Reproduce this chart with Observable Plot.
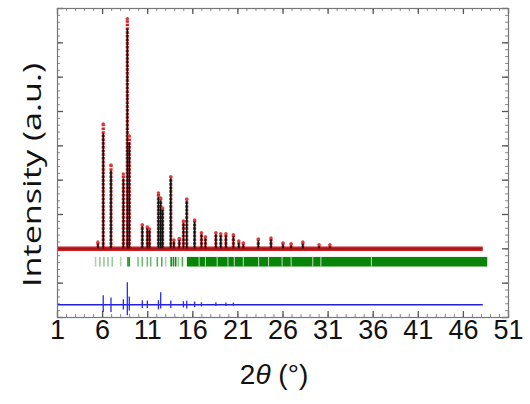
<!DOCTYPE html>
<html>
<head>
<meta charset="utf-8">
<script src="https://cdn.jsdelivr.net/npm/d3@7"></script>
<script src="https://cdn.jsdelivr.net/npm/@observablehq/plot@0.6"></script>
<style>
  html, body { margin: 0; padding: 0; background: #fff; }
  #chart { width: 530px; height: 404px; }
</style>
</head>
<body>
<div id="chart"></div>
<script>
// ---- Data (2θ in degrees, intensity in arbitrary counts) ----
const peakTheta = [5.48, 6.07, 6.93, 8.30, 8.74, 8.96, 10.40, 10.96, 11.20, 12.19, 12.44, 12.65, 13.56, 13.90, 14.50, 14.96, 15.33, 16.20, 16.96, 17.40, 18.56, 19.10, 19.67, 20.50, 21.10, 21.60, 23.26, 24.67, 26.00, 26.90, 28.20, 30.00, 31.20];
const peakObs   = [200, 3640, 2440, 2180, 6700, 3290, 700, 640, 580, 1630, 1480, 1190, 2100, 260, 300, 810, 1450, 840, 470, 350, 470, 440, 440, 410, 230, 175, 290, 320, 175, 150, 200, 120, 120];
const peakCalc  = [180, 3350, 2270, 2040, 6410, 3090, 650, 600, 540, 1510, 1400, 1120, 2100, 240, 280, 760, 1400, 800, 440, 330, 440, 410, 410, 390, 210, 160, 270, 300, 160, 140, 180, 110, 110];

const obsRange = [1, 48.2];           // measured 2θ range
const braggSparse = [5.22, 5.70, 6.15, 6.60, 7.07, 8.00, 8.81, 8.96, 9.93, 10.40, 10.96, 11.33, 12.07, 12.56, 13.00, 13.60, 13.85, 14.10, 14.40, 14.85];
const braggShade  = [0.35, 0.45, 0.45, 0.45, 0.45, 0.35, 0.9, 0.9, 0.55, 0.6, 0.6, 0.6, 0.7, 0.7, 0.35, 1, 1, 1, 0.5, 0.75];
const braggBand = [15.4, 48.7];      // dense reflections region
const braggGaps = [16.7, 17.4, 18.7, 19.9, 20.6, 21.6, 23.3, 24.4, 25.9, 26.9, 29.3, 30.2, 35.8];

const diffBase  = -1630;
const diffTheta = [6.07, 6.93, 8.30, 8.74, 8.96, 10.40, 10.96, 12.19, 12.44, 13.56, 14.96, 15.33, 16.20, 16.96, 18.56, 19.67, 20.50];
const diffUp    = [260, 200, 150, 640, 230, 120, 110, 120, 350, 110, 90, 100, 80, 60, 60, 50, 50];
const diffDown  = [-225, -225, -150, -320, -180, -110, -110, -150, -120, -110, -90, -120, -80, -60, -50, -50, -40];

const xTickValues = [1, 6, 11, 16, 21, 26, 31, 36, 41, 46, 51];
const xTickLabels = ["1", "6", "11", "16", "21", "26", "31", "36", "41", "46", "51"];
const xMinorTicks = d3.range(1, 52, 1);
const yMajorTicks = d3.range(-2000, 7001, 1000);
const yMinorTicks = d3.range(-2000, 7001, 200);

const xDomain = [1, 51];
const yDomain = [-2000, 7000];

// ---- build tables ----
const peaks = peakTheta.map((t, i) => ({t, obs: peakObs[i], calc: peakCalc[i]}));
const bragg = braggSparse.map((t, i) => ({t, s: braggShade[i]}));
const diffs = diffTheta.map((t, i) => ({t, up: diffBase + diffUp[i], down: diffBase + diffDown[i]}));

const W = 530, H = 404, mL = 57, mR = 22, mT = 8, mB = 87;
const cPerPx = (yDomain[1] - yDomain[0]) / (H - mT - mB);
const dPerPx = (xDomain[1] - xDomain[0]) / (W - mL - mR);
const tickGray = "#8a8a8a";

const chart = Plot.plot({
  width: W, height: H,
  marginLeft: mL, marginRight: mR, marginTop: mT, marginBottom: mB,
  x: {domain: xDomain, axis: null},
  y: {domain: yDomain, axis: null},
  style: {fontFamily: "Liberation Sans, Arial, sans-serif", background: "#fff"},
  marks: [
    // inner ticks (bottom / top)
    Plot.ruleX(xMinorTicks, {x: d => d, y1: yDomain[0], y2: yDomain[0] + 3 * cPerPx, stroke: tickGray}),
    Plot.ruleX(xTickValues, {x: d => d, y1: yDomain[0], y2: yDomain[0] + 6 * cPerPx, stroke: "#555", strokeWidth: 1.3}),
    Plot.ruleX(xMinorTicks, {x: d => d, y1: yDomain[1], y2: yDomain[1] - 3 * cPerPx, stroke: tickGray}),
    Plot.ruleX(xTickValues, {x: d => d, y1: yDomain[1], y2: yDomain[1] - 6 * cPerPx, stroke: "#555", strokeWidth: 1.3}),
    // inner ticks (left / right)
    Plot.ruleY(yMinorTicks, {y: d => d, x1: xDomain[0], x2: xDomain[0] + 3 * dPerPx, stroke: tickGray}),
    Plot.ruleY(yMajorTicks, {y: d => d, x1: xDomain[0], x2: xDomain[0] + 6 * dPerPx, stroke: "#555", strokeWidth: 1.3}),
    Plot.ruleY(yMinorTicks, {y: d => d, x1: xDomain[1], x2: xDomain[1] - 3 * dPerPx, stroke: tickGray}),
    Plot.ruleY(yMajorTicks, {y: d => d, x1: xDomain[1], x2: xDomain[1] - 6 * dPerPx, stroke: "#555", strokeWidth: 1.3}),

    // Bragg reflection markers
    Plot.ruleX(bragg, {x: "t", y1: -250, y2: -530, stroke: "#138a13", strokeWidth: 1.6, strokeOpacity: "s"}),
    Plot.rect([braggBand], {x1: d => d[0], x2: d => d[1], y1: -250, y2: -530, fill: "#088508"}),
    Plot.ruleX(braggGaps, {x: d => d, y1: -250, y2: -530, stroke: "#cfe8cf", strokeWidth: 0.9}),

    // difference curve
    Plot.ruleY([diffBase], {x1: obsRange[0], x2: obsRange[1], stroke: "#2020e8", strokeWidth: 1.6}),
    Plot.ruleX(diffs, {x: "t", y1: "down", y2: "up", stroke: "#2a2af0", strokeWidth: 1.3}),

    // observed (red) and calculated (black)
    Plot.ruleY([0], {x1: obsRange[0], x2: obsRange[1], stroke: "#d01c20", strokeWidth: 4.5}),
    Plot.ruleX(peaks, {x: "t", y1: 0, y2: "obs", stroke: "#d62025", strokeWidth: 3.2, strokeDasharray: "2.5,1.2"}),
    Plot.ruleY([0], {x1: obsRange[0], x2: obsRange[1], stroke: "#400808", strokeWidth: 1, strokeOpacity: 0.45}),
    Plot.ruleX(peaks, {x: "t", y1: 0, y2: "calc", stroke: "#111", strokeWidth: 1.7}),
    Plot.dot(peaks, {x: "t", y: "obs", r: 1.7, fill: "#e23a3a"}),

    Plot.frame({stroke: "#777", strokeWidth: 1.2}),

    // tick labels and axis titles
    Plot.text(xTickValues, {x: d => d, text: (d, i) => xTickLabels[i], frameAnchor: "bottom", dy: 21, fontSize: 27, fill: "#111"}),
    Plot.text(["2θ (°)"], {frameAnchor: "bottom", dy: 66, dx: -9, fontSize: 28, fill: "#111"}),
    Plot.text(["Intensity (a.u.)"], {frameAnchor: "left", textAnchor: "middle", rotate: -90, dx: -25, dy: 12, fontSize: 26, fontFamily: "Open Sans, sans-serif", fill: "#111"})
  ]
});

d3.select(chart).selectAll("text").each(function() {
  if (this.textContent === "2θ (°)") {
    this.innerHTML = '2<tspan font-style="italic">θ</tspan> (°)';
  }
  if (this.textContent === "Intensity (a.u.)") {
    this.setAttribute("textLength", 224);
    this.setAttribute("lengthAdjust", "spacingAndGlyphs");
  }
});

document.getElementById("chart").appendChild(chart);
</script>
</body>
</html>
